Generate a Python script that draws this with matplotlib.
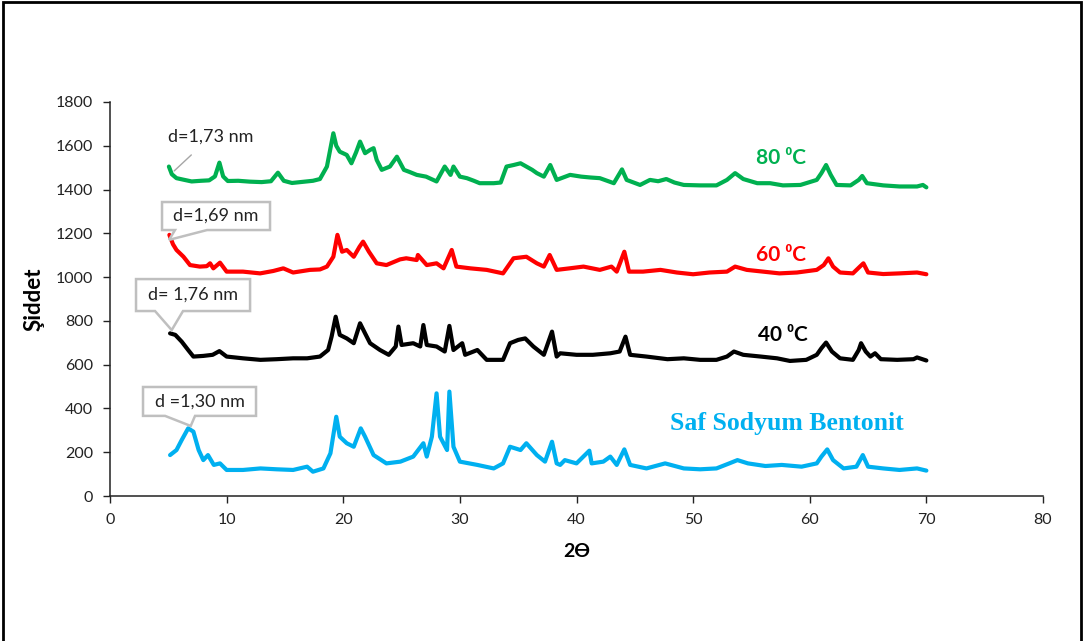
import matplotlib
matplotlib.use("Agg")
import matplotlib.pyplot as plt
from matplotlib.patches import Rectangle, Polygon

# XRD patterns (2-theta, intensity)
theta_80 = [5.05, 5.3, 5.7, 6.3, 7.0, 7.8, 8.5, 9.0, 9.38, 9.7, 10.1, 11.0, 12.0, 13.0, 13.8,
            14.4, 14.9, 15.6, 16.5, 17.4, 18.0, 18.6, 19.15, 19.4, 19.7, 20.3, 20.7, 21.1, 21.44,
            21.87, 22.3, 22.6, 22.87, 23.3, 24.0, 24.6, 25.2, 25.7, 26.3, 27.1, 28.0, 28.7, 29.2,
            29.45, 30.0, 30.6, 31.2, 31.7, 32.9, 33.5, 34.0, 34.6, 35.2, 35.7, 36.2, 36.6, 37.2,
            37.75, 38.3, 39.45, 40.4, 41.2, 42.0, 43.2, 43.9, 44.3, 45.45, 46.3, 47.0, 47.7, 48.4,
            49.2, 50.6, 52.0, 52.9, 53.6, 54.3, 55.5, 56.6, 57.7, 59.2, 60.6, 61.0, 61.4, 61.8,
            62.3, 63.5, 64.2, 64.5, 64.9, 66.3, 67.7, 69.2, 69.7, 70.0]
int_80 = [1505, 1470, 1452, 1445, 1437, 1440, 1442, 1460, 1523, 1460, 1439, 1440, 1436, 1434, 1438,
          1477, 1440, 1430, 1435, 1440, 1448, 1505, 1657, 1600, 1573, 1558, 1520, 1570, 1619,
          1566, 1581, 1589, 1535, 1490, 1505, 1550, 1490, 1480, 1467, 1459, 1437, 1505, 1467,
          1505, 1459, 1452, 1440, 1429, 1429, 1432, 1505, 1512, 1520, 1505, 1490, 1475, 1459,
          1512, 1444, 1467, 1459, 1455, 1452, 1429, 1492, 1444, 1421, 1444, 1438, 1448, 1432,
          1421, 1419, 1419, 1444, 1475, 1448, 1429, 1429, 1419, 1421, 1444, 1475, 1512, 1467,
          1421, 1419, 1444, 1462, 1429, 1419, 1414, 1414, 1421, 1410]

theta_60 = [5.09, 5.4, 5.7, 6.3, 6.86, 7.7, 8.3, 8.58, 8.86, 9.43, 10.0, 11.4, 12.87, 14.0, 14.86,
            15.7, 17.15, 18.0, 18.6, 19.15, 19.5, 19.9, 20.3, 20.9, 21.4, 21.7, 22.2, 22.87, 23.7,
            24.87, 25.4, 26.3, 26.4, 27.16, 28.0, 28.6, 29.3, 29.7, 30.9, 32.3, 33.7, 34.6, 35.7,
            36.6, 37.2, 37.7, 38.3, 39.4, 40.6, 42.0, 43.0, 43.45, 44.1, 44.5, 45.7, 47.2, 48.6,
            50.0, 51.4, 52.9, 53.6, 54.6, 56.0, 57.4, 58.9, 60.6, 61.2, 61.6, 62.0, 62.6, 63.7,
            64.3, 64.6, 65.0, 66.3, 67.7, 69.2, 70.0]
int_60 = [1193, 1150, 1124, 1093, 1055, 1048, 1050, 1063, 1040, 1066, 1025, 1025, 1017, 1028, 1040,
          1021, 1033, 1035, 1048, 1093, 1193, 1116, 1124, 1093, 1139, 1162, 1116, 1063, 1055,
          1081, 1086, 1078, 1101, 1055, 1063, 1040, 1124, 1048, 1040, 1033, 1017, 1086, 1093,
          1063, 1048, 1101, 1033, 1040, 1048, 1033, 1048, 1025, 1116, 1025, 1025, 1033, 1021,
          1013, 1021, 1025, 1048, 1033, 1025, 1017, 1021, 1033, 1055, 1086, 1048, 1021, 1017,
          1048, 1063, 1021, 1014, 1017, 1021, 1013]

theta_40 = [5.15, 5.6, 6.15, 6.7, 7.15, 8.0, 8.8, 9.38, 10.0, 11.4, 12.9, 14.3, 15.7, 16.9, 18.0,
            18.7, 19.0, 19.35, 19.7, 20.3, 20.9, 21.44, 21.87, 22.3, 23.15, 23.9, 24.5, 24.73, 25.0,
            26.0, 26.6, 26.87, 27.16, 28.0, 28.7, 29.1, 29.45, 30.2, 30.45, 31.5, 32.3, 33.7, 34.3,
            35.0, 35.6, 36.3, 37.2, 37.9, 38.3, 38.6, 40.0, 41.4, 42.9, 43.7, 44.2, 44.6, 46.0,
            47.8, 49.2, 50.6, 52.0, 52.9, 53.5, 54.3, 55.8, 57.2, 58.3, 59.7, 60.6, 61.0, 61.4,
            61.9, 62.6, 63.7, 64.2, 64.4, 64.8, 65.2, 65.6, 66.1, 67.5, 68.9, 69.2, 70.0]
int_40 = [743, 736, 705, 667, 637, 640, 645, 662, 637, 629, 622, 625, 629, 629, 637,
          667, 728, 819, 736, 720, 698, 789, 743, 698, 667, 645, 683, 774, 690,
          698, 683, 781, 690, 683, 660, 777, 667, 698, 645, 667, 622, 622, 698,
          713, 720, 683, 645, 751, 637, 652, 645, 645, 652, 660, 728, 645, 637,
          625, 629, 622, 622, 637, 660, 645, 637, 629, 617, 622, 645, 675, 701,
          660, 629, 622, 667, 698, 660, 637, 652, 625, 622, 625, 633, 619]

theta_na = [5.15, 5.7, 6.15, 6.7, 7.15, 7.6, 8.0, 8.4, 8.9, 9.43, 10.0, 11.4, 12.9, 14.3, 15.7,
            16.9, 17.4, 18.3, 18.9, 19.4, 19.7, 20.3, 20.9, 21.5, 21.87, 22.6, 23.7, 24.9, 26.0,
            26.87, 27.16, 27.6, 28.0, 28.3, 28.9, 29.1, 29.45, 30.0, 31.5, 32.9, 33.7, 34.3, 35.2,
            35.7, 36.6, 37.3, 37.9, 38.3, 38.6, 39.0, 40.0, 41.1, 41.3, 42.3, 42.9, 43.45, 44.1,
            44.6, 46.0, 47.6, 49.2, 50.6, 52.0, 53.1, 53.8, 54.7, 56.2, 57.6, 59.3, 60.6, 61.0,
            61.5, 62.0, 62.9, 64.0, 64.55, 65.0, 66.3, 67.7, 69.2, 70.0]
int_na = [187, 210, 256, 309, 294, 210, 164, 187, 142, 149, 119, 119, 126, 122, 119,
          134, 111, 126, 195, 362, 271, 241, 225, 309, 271, 187, 149, 157, 180,
          241, 180, 271, 469, 271, 210, 477, 225, 157, 142, 126, 149, 225, 210,
          241, 187, 157, 248, 149, 142, 164, 149, 207, 149, 157, 180, 142, 213,
          142, 126, 149, 126, 122, 126, 149, 164, 149, 137, 142, 134, 149, 180,
          213, 164, 126, 134, 187, 134, 126, 119, 126, 116]

x_ticks = [0, 10, 20, 30, 40, 50, 60, 70, 80]
y_ticks = [0, 200, 400, 600, 800, 1000, 1200, 1400, 1600, 1800]

GREEN = "#00B050"
RED = "#FF0000"
BLACK = "#000000"
BLUE = "#00B0F0"
CALLOUT_EDGE = "#BFBFBF"

plt.rcParams["font.family"] = ["Lato", "DejaVu Sans"]

fig = plt.figure(figsize=(10.86, 6.41), dpi=100)
ax = fig.add_axes([0.1013, 0.2262, 0.8591, 0.6147])

lw = 3.0
for th, inten, col in [(theta_na, int_na, BLUE), (theta_40, int_40, BLACK),
                       (theta_60, int_60, RED), (theta_80, int_80, GREEN)]:
    ax.plot(th, inten, color=col, lw=lw, solid_joinstyle="round", solid_capstyle="round")

ax.set_xlim(0, 80)
ax.set_ylim(0, 1800)
ax.set_xticks(x_ticks)
ax.set_yticks(y_ticks)
ax.tick_params(axis="both", direction="out", length=5, width=1, labelsize=11.5,
               colors="#222222", pad=7)
for side in ("top", "right"):
    ax.spines[side].set_visible(False)
for side in ("left", "bottom"):
    ax.spines[side].set_color("#222222")
    ax.spines[side].set_linewidth(1.1)

ax.set_xlabel("2Ө", fontsize=14, fontweight="bold", labelpad=12)
ax.set_ylabel("Şiddet", fontsize=16, fontweight="bold", labelpad=8)

# curve labels
ax.text(57.5, 1543, "80 ⁰C", color=GREEN, fontsize=15, fontweight="bold", ha="center", va="center")
ax.text(57.5, 1101, "60 ⁰C", color=RED, fontsize=15, fontweight="bold", ha="center", va="center")
ax.text(57.7, 736, "40 ⁰C", color=BLACK, fontsize=15, fontweight="bold", ha="center", va="center")
ax.text(58.0, 329, "Saf Sodyum Bentonit", color=BLUE, fontsize=18.5, fontweight="bold",
        family="Liberation Serif", ha="center", va="center")

# basal spacing callouts
ax.annotate("d=1,73 nm", xy=(5.5, 1485), xytext=(8.66, 1642), fontsize=13, ha="center",
            va="center", color="#222222",
            arrowprops=dict(arrowstyle="-", color="#A6A6A6", lw=1, shrinkA=8, shrinkB=0))


def callout(text, x0, x1, y0, y1, b0, b1, tip):
    """Rectangular callout box with a pointer from its lower edge to tip."""
    verts = [(x0, y1), (x1, y1), (x1, y0), (b1, y0), tip, (b0, y0), (x0, y0)]
    ax.add_patch(Polygon(verts, closed=True, fc="white", ec=CALLOUT_EDGE, lw=1.8,
                         joinstyle="miter", zorder=5, clip_on=False))
    ax.text((x0 + x1) / 2, (y0 + y1) / 2, text, fontsize=13, ha="center", va="center",
            color="#222222", zorder=6)


callout("d=1,69 nm", 4.46, 13.72, 1215, 1343, 5.57, 8.32, (5.06, 1170))
callout("d= 1,76 nm", 2.23, 12.01, 845, 991, 3.86, 6.26, (5.29, 758))
callout("d =1,30 nm", 2.83, 12.52, 366, 498, 4.72, 7.29, (6.92, 320))

# outer frame
fig.patches.append(Rectangle((3 / 1086, -0.01), 1078 / 1086, 1 - 2 / 641 + 0.01,
                             transform=fig.transFigure, fill=False, ec="black", lw=2))

fig.savefig("out.png", dpi=100)
